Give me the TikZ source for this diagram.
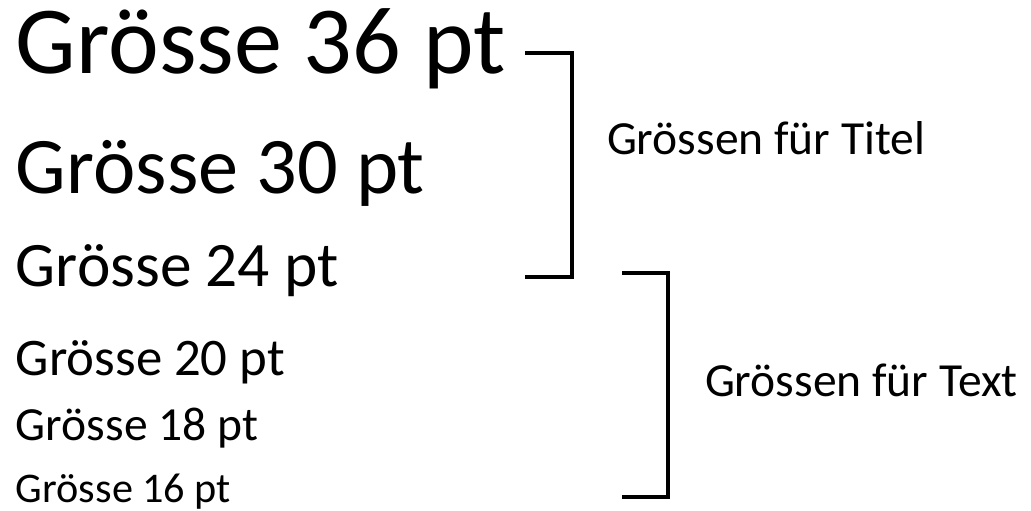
\documentclass[tikz,border=0pt]{standalone}
\usepackage{fontspec}
\setmainfont{Carlito}
\begin{document}
\begin{tikzpicture}[x=0.3788pt,y=-0.3788pt,
  sample/.style={anchor=base west,inner sep=0pt,outer sep=0pt},
  grouplabel/.style={anchor=base west,inner sep=0pt,outer sep=0pt,font=\fontsize{18}{22}\selectfont},
  bracketline/.style={line width=1.5pt,line join=miter}]
\useasboundingbox (0,0) rectangle (1031,511);
\node[sample,font=\fontsize{36.4}{43}\selectfont] (s36) at (16,74) {Grösse 36 pt};
\node[sample,font=\fontsize{30.4}{36}\selectfont] (s30) at (16,194) {Grösse 30 pt};
\node[sample,font=\fontsize{24}{29}\selectfont] (s24) at (16,287) {Grösse 24 pt};
\node[sample,font=\fontsize{20}{24}\selectfont] (s20) at (16,375) {Grösse 20 pt};
\node[sample,font=\fontsize{18}{22}\selectfont] (s18) at (16,440) {Grösse 18 pt};
\node[sample,font=\fontsize{16}{19}\selectfont] (s16) at (16,502) {Grösse 16 pt};
\node[grouplabel] (titel) at (607,155) {Grössen für Titel};
\node[grouplabel] (text) at (705,397) {Grössen für Text};
\coordinate (t1) at (525,53);
\coordinate (t2) at (572,53);
\coordinate (t3) at (572,277);
\coordinate (t4) at (525,277);
\coordinate (x1) at (622,273);
\coordinate (x2) at (668,273);
\coordinate (x3) at (668,497);
\coordinate (x4) at (622,497);
\draw[bracketline] (t1) -- (t2) -- (t3) -- (t4);
\draw[bracketline] (x1) -- (x2) -- (x3) -- (x4);
\end{tikzpicture}
\end{document}
